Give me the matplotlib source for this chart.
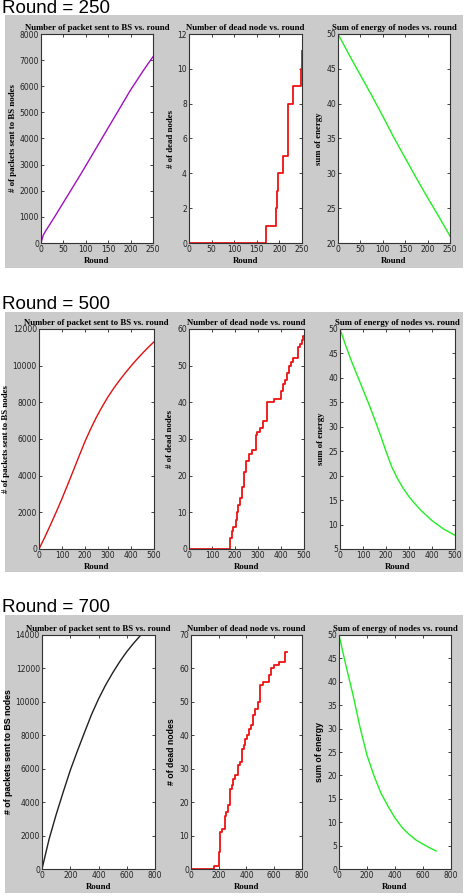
import matplotlib
matplotlib.use("Agg")
import matplotlib.pyplot as plt
from matplotlib.patches import Rectangle

W, H = 468, 896

# ---- Round = 250 ----
r1_rounds = [0, 5, 10, 20, 30, 40, 50, 60, 70, 80, 90, 100, 110, 120, 130, 140, 150,
             160, 170, 180, 190, 200, 210, 220, 230, 240, 250]
r1_packets = [0, 300, 450, 720, 990, 1270, 1550, 1830, 2110, 2390, 2670, 2960, 3250,
              3540, 3830, 4120, 4410, 4700, 4990, 5280, 5570, 5860, 6120, 6380, 6640,
              6890, 7130]
r1_dead_rounds = [0, 171, 193, 195, 197, 207, 219, 220, 229, 248, 249, 250]
r1_dead = [0, 1, 2, 3, 4, 5, 7, 8, 9, 10, 11, 11]
r1_en_rounds = [0, 25, 50, 75, 100, 125, 150, 175, 200, 225, 250]
r1_energy = [50, 47.0, 44.1, 41.2, 38.2, 35.1, 32.2, 29.3, 26.5, 23.8, 21.0]

# ---- Round = 500 ----
r2_rounds = [0, 25, 50, 75, 100, 125, 150, 175, 200, 225, 250, 275, 300, 325, 350, 375,
             400, 425, 450, 475, 500]
r2_packets = [0, 640, 1320, 2020, 2750, 3520, 4300, 5090, 5870, 6560, 7200, 7770, 8300,
              8770, 9200, 9600, 9980, 10340, 10680, 11000, 11300]
r2_dead_rounds = [0, 180, 185, 190, 203, 208, 214, 222, 231, 241, 249, 259, 276, 290,
                  296, 307, 322, 337, 369, 400, 410, 417, 425, 435, 445, 452, 474, 482,
                  490, 497, 500]
r2_dead = [0, 3, 5, 6, 8, 10, 12, 14, 17, 21, 24, 26, 27, 31, 32, 33, 35, 40, 41, 43,
           45, 46, 48, 50, 51, 52, 55, 56, 57, 58, 58]
r2_en_rounds = [0, 25, 50, 75, 100, 125, 150, 175, 200, 225, 250, 275, 300, 325, 350,
                400, 450, 500]
r2_energy = [50, 46.6, 43.4, 40.5, 37.6, 34.7, 31.6, 28.4, 25.0, 21.8, 19.4, 17.4, 15.7,
             14.3, 13.0, 10.8, 9.1, 7.8]

# ---- Round = 700 ----
r3_rounds = [0, 50, 100, 150, 200, 250, 300, 350, 400, 450, 500, 550, 600, 650, 700]
r3_packets = [0, 1780, 3250, 4600, 5900, 7050, 8150, 9230, 10170, 11000, 11730, 12400,
              13000, 13520, 14000]
r3_dead_rounds = [0, 167, 200, 207, 214, 226, 248, 255, 269, 283, 298, 305, 317, 338,
                  350, 367, 379, 390, 402, 417, 433, 445, 464, 481, 498, 517, 564, 579,
                  600, 636, 674, 681, 695]
r3_dead = [0, 1, 5, 11, 11, 12, 16, 17, 19, 24, 25, 27, 28, 31, 32, 36, 37, 39, 40, 42,
           43, 46, 48, 50, 55, 56, 58, 60, 61, 62, 63, 65, 65]
r3_en_rounds = [0, 50, 100, 150, 200, 250, 300, 350, 400, 450, 500, 550, 600, 650, 693]
r3_energy = [50, 43.4, 37.2, 30.3, 24.3, 19.9, 16.2, 13.4, 10.9, 8.9, 7.4, 6.2, 5.3,
             4.5, 3.85]

titles = ["Number of packet sent to BS vs. round", "Number of dead node vs. round",
          "Sum of energy of nodes vs. round"]
ylabels = ["# of packets sent to BS nodes", "# of dead nodes", "sum of energy"]

rows = [
    dict(label="Round = 250", label_y=13, panel=(5, 15, 463, 268),
         axes=[(41, 34, 153, 243), (189, 34, 302, 243), (338, 34, 450, 243)],
         xmax=250, xstep=50, pk_color="#a010c0",
         ylims=[(0, 8000, 1000), (0, 12, 2), (20, 50, 5)],
         data=[(r1_rounds, r1_packets), (r1_dead_rounds, r1_dead), (r1_en_rounds, r1_energy)]),
    dict(label="Round = 500", label_y=309, panel=(5, 312, 463, 572),
         axes=[(39, 329, 154, 549), (189, 329, 304, 549), (340, 329, 455, 549)],
         xmax=500, xstep=100, pk_color="#e01010",
         ylims=[(0, 12000, 2000), (0, 60, 10), (5, 50, 5)],
         data=[(r2_rounds, r2_packets), (r2_dead_rounds, r2_dead), (r2_en_rounds, r2_energy)]),
    dict(label="Round = 700", label_y=612, panel=(5, 615, 463, 893),
         axes=[(42, 635, 155, 869), (191, 635, 302, 869), (339, 635, 451, 869)],
         xmax=800, xstep=200, pk_color="#202020",
         ylims=[(0, 14000, 2000), (0, 70, 10), (0, 50, 5)],
         data=[(r3_rounds, r3_packets), (r3_dead_rounds, r3_dead), (r3_en_rounds, r3_energy)]),
]

fig = plt.figure(figsize=(W / 100, H / 100), dpi=100)
fig.patch.set_facecolor("white")


def frac(l, t, r, b):
    return [l / W, 1 - b / H, (r - l) / W, (b - t) / H]


for row in rows:
    l, t, r, b = row["panel"]
    fig.patches.append(Rectangle((l / W, 1 - b / H), (r - l) / W, (b - t) / H,
                                 transform=fig.transFigure, facecolor="#cbcbcb",
                                 edgecolor="none", zorder=-10))
    fig.text(2 / W, 1 - row["label_y"] / H, row["label"], fontsize=13.5,
             family="Liberation Sans", va="baseline", ha="left")
    for i in range(3):
        ax = fig.add_axes(frac(*row["axes"][i]))
        ax.set_zorder(5)
        xs, ys = row["data"][i]
        if i == 0:
            ax.plot(xs, ys, color=row["pk_color"], lw=1.0)
        elif i == 1:
            ax.step(xs, ys, where="post", color="#ee1111", lw=1.3)
        else:
            ax.plot(xs, ys, color="#22ee22", lw=1.0)
        y0, y1, ys_ = row["ylims"][i]
        ax.set_ylim(y0, y1)
        ax.set_yticks(range(y0, y1 + 1, ys_))
        ax.set_xlim(0, row["xmax"])
        ax.set_xticks(range(0, row["xmax"] + 1, row["xstep"]))
        ax.tick_params(direction="in", top=True, right=True, labelsize=5.5,
                       length=2.5, width=0.6, pad=1.5, colors="#222222")
        for s in ax.spines.values():
            s.set_linewidth(0.8)
            s.set_color("#333333")
        ax.set_title(titles[i], fontsize=6.3, family="Liberation Serif",
                     fontweight="bold", pad=3)
        ax.set_xlabel("Round", fontsize=6.3, family="Liberation Serif",
                      fontweight="bold", labelpad=2)
        yfam = "Liberation Sans" if row["label"] == "Round = 700" else "Liberation Serif"
        ax.set_ylabel(ylabels[i], fontsize=6.3, family=yfam, fontweight="bold",
                      labelpad=2)

fig.savefig("out.png", dpi=100)
